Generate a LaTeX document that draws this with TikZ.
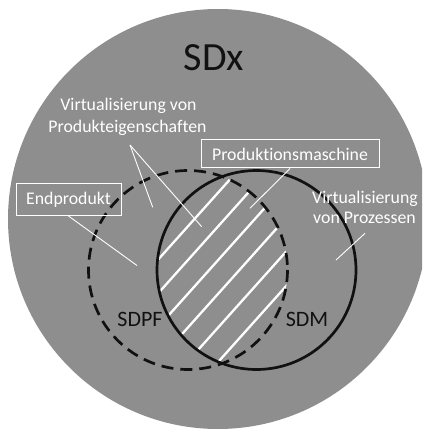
\documentclass[tikz,border=0pt]{standalone}
\usepackage{fontspec}
\setmainfont{Carlito}[Ligatures={NoCommon,NoContextual,NoRare}]
\usetikzlibrary{calc}
\definecolor{bggray}{RGB}{142,142,142}
\definecolor{inkblack}{RGB}{17,17,17}
\tikzset{
  lbl/.style={inner sep=0pt, anchor=base, text=white, font=\fontsize{17.8}{21}\selectfont},
  boxlbl/.style={draw=white, line width=1pt, text=white, inner sep=0pt, font=\fontsize{17.8}{21}\selectfont},
  setlbl/.style={inner sep=0pt, anchor=base, text=inkblack, font=\fontsize{22}{26}\selectfont},
  pointer/.style={draw=white, line width=0.9pt},
  hatch/.style={draw=white, line width=2.3pt},
  sdpfline/.style={draw=inkblack, line width=2.7pt, dash pattern=on 12pt off 7pt},
  sdmline/.style={draw=inkblack, line width=2.7pt}
}
\begin{document}
\begin{tikzpicture}[x=1pt,y=-1pt]
\useasboundingbox (0,0) rectangle (422,430);
\clip (0,0) rectangle (422,430);
% outer SDx disc
\fill[bggray] (218,219) circle[radius=210];
% hatching of the intersection
\begin{scope}
  \clip (188,270) circle[radius=99.5];
  \clip (256.5,270) circle[radius=99.5];
  \foreach \s in {291,313.5,336,358.5,381,404}{
    \draw[hatch] ($(\s*0.745,\s*0.667)+(-90,100.5)$) -- ($(\s*0.745,\s*0.667)+(90,-100.5)$);
  }
\end{scope}
% the two sets
\draw[sdpfline] (188,270) circle[radius=99.5];
\draw[sdmline] (256.5,270) circle[radius=99.5];
% texts
\node[inner sep=0pt, anchor=base, text=inkblack, font=\fontsize{40}{48}\selectfont] (sdx) at (214,71) {SDx};
\node[lbl] (vp1) at (128.5,111) {Virtualisierung von};
\node[lbl] (vp2) at (127.5,133) {Produkteigenschaften};
\node[lbl] (vpr1) at (365,203) {Virtualisierung};
\node[lbl] (vpr2) at (364.5,223) {von Prozessen};
\node[setlbl] (sdpf) at (140,326) {SDPF};
\node[setlbl] (sdm) at (307,326) {SDM};
\node[boxlbl, minimum width=105pt, minimum height=31pt] (ep) at (68.5,199.5) {Endprodukt};
\node[boxlbl, minimum width=178pt, minimum height=28pt] (pm) at (290,154) {Produktionsmaschine};
% pointer tips
\coordinate (apex) at (130,145);
\coordinate (tipa) at (152.7,207.3);
\coordinate (tipb) at (201.7,226.7);
\coordinate (tipep) at (137,265.5);
\coordinate (tippm) at (250,208.3);
\coordinate (startpr) at (365,233.3);
\coordinate (tippr) at (336,260);
\draw[pointer] (apex) -- (tipa);
\draw[pointer] (apex) -- (tipb);
\draw[pointer] (ep.south) ++(0,0.5) -- (tipep);
\draw[pointer] (pm.south) -- (tippm);
\draw[pointer] (startpr) -- (tippr);
\end{tikzpicture}
\end{document}
